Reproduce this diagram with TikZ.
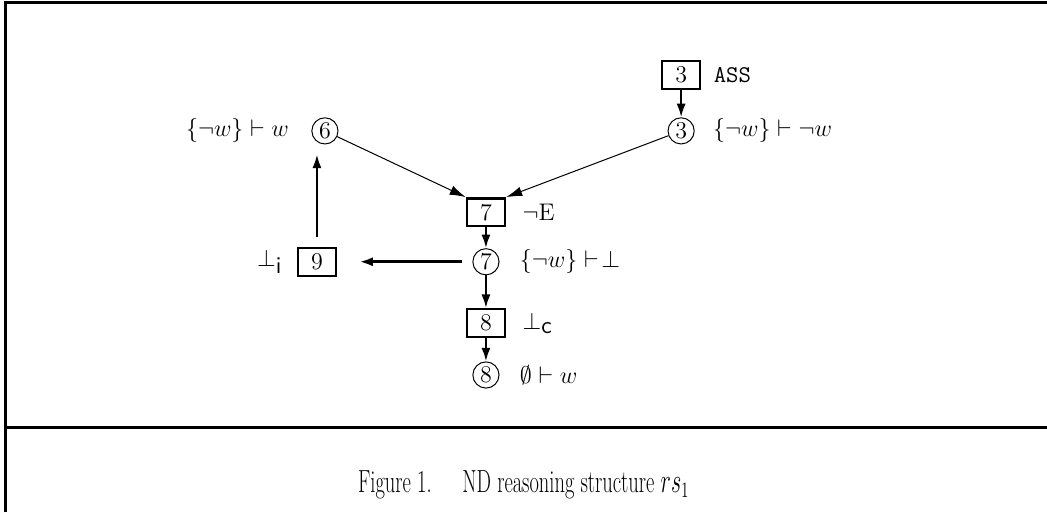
\documentclass[tikz,border=0pt]{standalone}
\usepackage{amssymb}
\usepackage{tikz}
\usetikzlibrary{arrows.meta, calc, positioning}

\tikzset{
  rulebox/.style={draw, line width=1.2pt, minimum width=0.67cm, minimum height=0.49cm, inner sep=0pt},
  stmt/.style={draw, circle, line width=0.5pt, minimum size=0.46cm, inner sep=0pt},
  lbl/.style={inner sep=1pt},
  thin arrow/.style={line width=0.5pt, -{Latex[length=2.8mm, width=1.7mm]}},
  thick arrow/.style={line width=1.1pt, -{Latex[length=2.4mm, width=1.6mm]}},
  frame/.style={line width=1.5pt}
}

\begin{document}
\begin{tikzpicture}[font=\large]
  \useasboundingbox (0,0) rectangle (18.40,-9.0);

  % frame and caption rule
  \draw[frame] (0.09,-9.0) -- (0.09,-0.05) -- (18.40,-0.05);
  \draw[frame] (0.09,-7.52) -- (18.40,-7.52);

  % rule applications (boxes) and statements (circles)
  \node[rulebox] (b3) at (11.97,-1.32) {3};
  \node[stmt]    (c3) at (11.97,-2.30) {3};
  \node[stmt]    (c6) at (5.71,-2.30) {6};
  \node[rulebox] (b7) at (8.54,-3.73) {7};
  \node[stmt]    (c7) at (8.54,-4.60) {7};
  \node[rulebox] (b9) at (5.57,-4.60) {9};
  \node[rulebox] (b8) at (8.54,-5.68) {8};
  \node[stmt]    (c8) at (8.54,-6.59) {8};

  % labels
  \node[lbl, right=5pt of b3]  (l3)  {\texttt{ASS}};
  \node[lbl, right=8pt of c3]  (s3)  {$\{\neg w\}\vdash\neg w$};
  \node[lbl, left=10pt of c6]  (s6)  {$\{\neg w\}\vdash w$};
  \node[lbl, right=7pt of b7]  (l7)  {$\neg$E};
  \node[lbl, right=9pt of c7]  (s7)  {$\{\neg w\}\vdash\!\bot$};
  \node[lbl, left=6pt of b9]   (l9)  {$\bot_{\textsf{i}}$};
  \node[lbl, right=7pt of b8]  (l8)  {$\bot_{\textsf{c}}$};
  \node[lbl, right=9pt of c8]  (s8)  {$\emptyset\vdash w$};

  % connectors
  \draw[thick arrow] (b3) -- (c3);
  \draw[thin arrow] (c6) -- (b7.north west);
  \draw[thin arrow] (c3) -- (b7.north east);
  \draw[thick arrow] (b7) -- (c7);
  \draw[thick arrow] (c7) -- (b8);
  \draw[thick arrow] (b8) -- (c8);
  \draw[thick arrow, line width=1.4pt, shorten <=5pt, shorten >=11pt] (c7) -- (b9);
  \draw[thick arrow, shorten <=5pt, shorten >=5pt] (b9) -- (b9 |- c6.south);

  \node (cap) at (9.20,-8.52)
    {\scalebox{0.64}[1]{\fontsize{16}{19}\selectfont Figure 1.\hspace{1.5em}ND reasoning structure $rs_1$}};
\end{tikzpicture}
\end{document}
